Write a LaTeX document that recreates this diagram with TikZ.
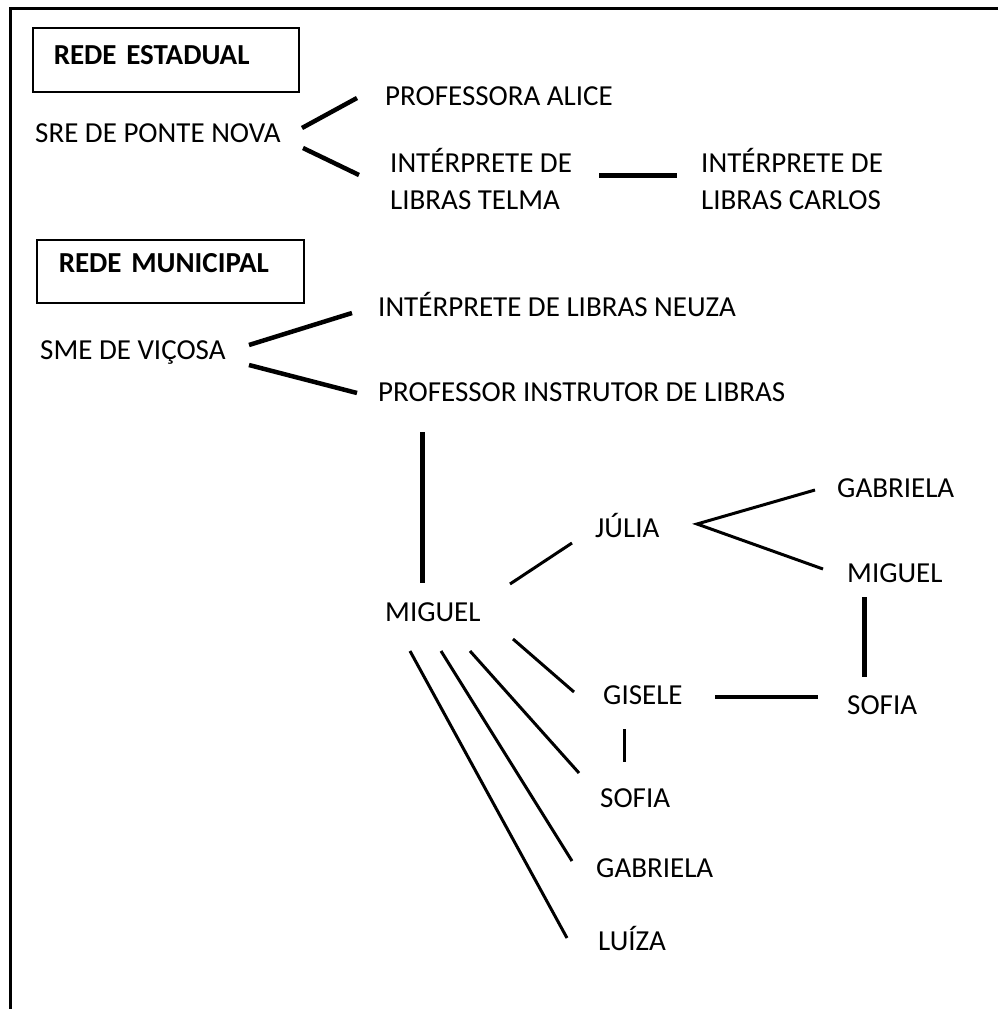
\documentclass[tikz,border=0pt]{standalone}
\usepackage{fontspec}
\setmainfont{Carlito}
\usetikzlibrary{calc}
\begin{document}
\begin{tikzpicture}[x=1pt,y=-1pt,
  lbl/.style={anchor=base west,inner sep=0pt,font=\fontsize{29}{37}\selectfont,align=left},
  hdr/.style={draw,line width=1.5pt,anchor=north west,align=left,font=\fontsize{29}{37}\selectfont\bfseries,text height=18.7pt},
  thick4/.style={line width=4.5pt},
  thin3/.style={line width=3pt},
  bar5/.style={line width=5pt}]
\useasboundingbox (0,0) rectangle (998,1009);
\draw[line width=3pt] (10,1009) -- (10,8) -- (998,8);
% headers
\node[hdr,minimum width=266pt,minimum height=64pt,inner xsep=21pt,text width=224pt,text depth=10pt] (est) at (32,27) {\mbox{REDE ESTADUAL}};
\node[hdr,minimum width=267pt,minimum height=63pt,inner xsep=22pt,text width=223pt,text depth=15.7pt] (mun) at (36,239) {\mbox{REDE MUNICIPAL}};
% labels
\node[lbl] (sre) at (35,142) {SRE DE PONTE NOVA};
\node[lbl] (pa) at (385,105) {PROFESSORA ALICE};
\node[lbl] (telma) at (390,209) {INTÉRPRETE DE\\LIBRAS TELMA};
\node[lbl] (carlos) at (701,209) {INTÉRPRETE DE\\LIBRAS CARLOS};
\node[lbl] (sme) at (40,359) {SME DE VIÇOSA};
\node[lbl] (neuza) at (378,316) {INTÉRPRETE DE LIBRAS NEUZA};
\node[lbl] (prof) at (378,401) {PROFESSOR INSTRUTOR DE LIBRAS};
\node[lbl] (mig) at (385,621) {MIGUEL};
\node[lbl] (julia) at (595,537) {JÚLIA};
\node[lbl] (gabA) at (837,497) {GABRIELA};
\node[lbl] (migB) at (847,582) {MIGUEL};
\node[lbl] (sofB) at (847,714) {SOFIA};
\node[lbl] (gis) at (603,704) {GISELE};
\node[lbl] (sof) at (600,807) {SOFIA};
\node[lbl] (gab) at (596,877) {GABRIELA};
\node[lbl] (luiza) at (598,950) {LUÍZA};
% connectors
\draw[thick4] ([shift={(267,-14)}]sre.base west) -- ([shift={(-28,-7)}]pa.base west);
\draw[thick4] ([shift={(268,6)}]sre.base west) -- ([shift={(-31,-34)}]telma.base west);
\draw[bar5] ([shift={(209,-34)}]telma.base west) -- ([shift={(-24,-34)}]carlos.base west);
\draw[thick4] ([shift={(209,-14)}]sme.base west) -- ([shift={(-26,-3)}]neuza.base west);
\draw[thick4] ([shift={(209,6)}]sme.base west) -- ([shift={(-21,-8)}]prof.base west);
\draw[bar5] ([shift={(44,31)}]prof.base west) -- ([shift={(37,-38)}]mig.base west);
\draw[thin3] ([shift={(125,-37)}]mig.base west) -- ([shift={(-23,6)}]julia.base west);
\draw[thin3] ([shift={(-22,-7)}]gabA.base west) -- ([shift={(102,-13)}]julia.base west) -- ([shift={(-24,-13)}]migB.base west);
\draw[bar5] ([shift={(17,15)}]migB.base west) -- ([shift={(17,-37)}]sofB.base west);
\draw[line width=4pt] ([shift={(112,-7)}]gis.base west) -- ([shift={(-29,-17)}]sofB.base west);
\draw[thin3] ([shift={(128,18)}]mig.base west) -- ([shift={(-29,-12)}]gis.base west);
\draw[thin3] ([shift={(21,25)}]gis.base west) -- ([shift={(24,-45)}]sof.base west);
\draw[thin3] ([shift={(85,30)}]mig.base west) -- ([shift={(-21,-34)}]sof.base west);
\draw[thin3] ([shift={(56,30)}]mig.base west) -- ([shift={(-24,-16)}]gab.base west);
\draw[thin3] ([shift={(25,30)}]mig.base west) -- ([shift={(-31,-12)}]luiza.base west);
\end{tikzpicture}
\end{document}
